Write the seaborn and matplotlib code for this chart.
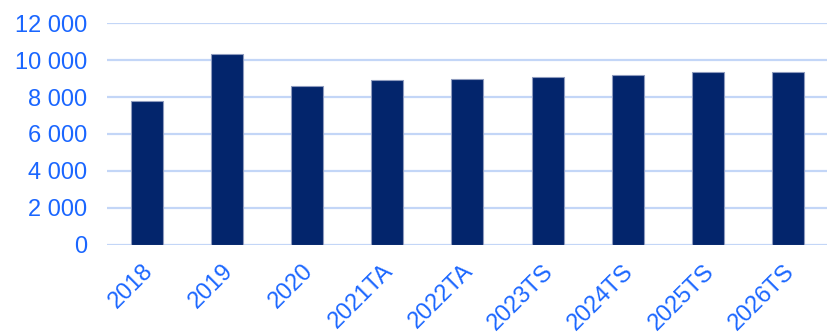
import matplotlib
matplotlib.use("Agg")
import matplotlib.pyplot as plt
import matplotlib.transforms as mtransforms
import seaborn as sns
import pandas as pd
from matplotlib.ticker import FuncFormatter

years = ["2018", "2019", "2020", "2021TA", "2022TA", "2023TS", "2024TS", "2025TS", "2026TS"]
values = [7780, 10340, 8580, 8900, 8990, 9100, 9210, 9330, 9370]
y_ticks = [0, 2000, 4000, 6000, 8000, 10000, 12000]

df = pd.DataFrame({"year": years, "value": values})

sns.set_theme(style="white")
plt.rcParams["font.family"] = ["Liberation Sans", "DejaVu Sans"]

bar_color = "#03256C"
grid_color = "#C3D6F7"
label_color = "#1A66FF"

fig = plt.figure(figsize=(8.28, 3.35), dpi=100)
ax = fig.add_axes([0.129, 0.269, 0.871, 0.662])

sns.barplot(data=df, x="year", y="value", color=bar_color, width=0.4,
            edgecolor="#8E9BBE", linewidth=0.8, saturation=1, ax=ax, zorder=3)

ax.set_ylim(0, 12000)
ax.set_xlim(-0.5, len(years) - 0.5)
ax.set_yticks(y_ticks)
ax.yaxis.set_major_formatter(FuncFormatter(lambda v, p: f"{int(v):,}".replace(",", " ")))
ax.grid(axis="y", color=grid_color, linewidth=1.6, zorder=0)
ax.set_axisbelow(True)
for s in ax.spines.values():
    s.set_visible(False)

ax.set_xlabel("")
ax.set_ylabel("")
ax.tick_params(axis="y", length=0, pad=14, labelsize=17, labelcolor=label_color)
ax.tick_params(axis="x", length=0, pad=11, labelsize=17, labelcolor=label_color)
shift = mtransforms.ScaledTranslation(-0.05, 0, fig.dpi_scale_trans)
for lbl in ax.get_xticklabels():
    lbl.set_rotation(45)
    lbl.set_ha("right")
    lbl.set_va("top")
    lbl.set_rotation_mode("anchor")
    lbl.set_transform(lbl.get_transform() + shift)

fig.savefig("out.png", dpi=100)
